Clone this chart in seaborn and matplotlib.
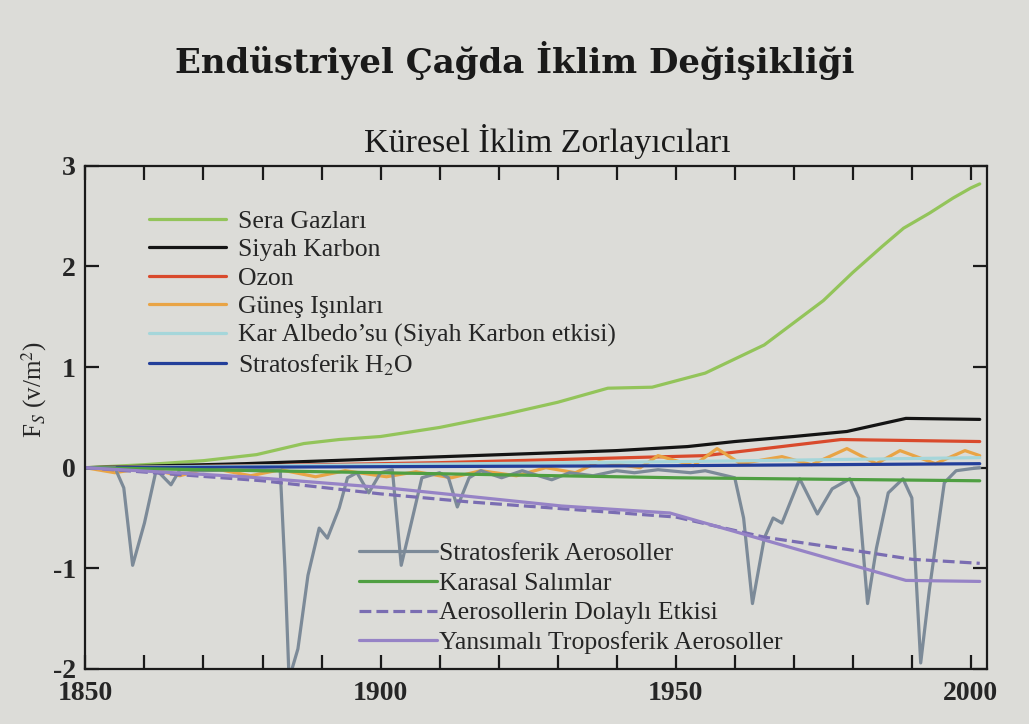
import matplotlib
matplotlib.use("Agg")
import matplotlib.pyplot as plt
import seaborn as sns
from matplotlib.ticker import MultipleLocator
from matplotlib.lines import Line2D

# =========================
# DATA
# =========================
ghg_years = [1850, 1860, 1870, 1879, 1887, 1893, 1900, 1910, 1921, 1930, 1938.5, 1946,
             1955, 1965, 1975, 1980, 1985, 1988.6, 1993, 1997, 2000, 2001.5]
ghg_vals = [0, 0.03, 0.07, 0.13, 0.24, 0.28, 0.31, 0.40, 0.53, 0.65, 0.79, 0.80,
            0.94, 1.22, 1.66, 1.94, 2.20, 2.38, 2.53, 2.68, 2.78, 2.82]

bc_years = [1850, 1877, 1901, 1940, 1952, 1960, 1970, 1979, 1989, 2001.5]
bc_vals = [0, 0.04, 0.09, 0.17, 0.21, 0.26, 0.31, 0.36, 0.49, 0.48]

ozone_years = [1850, 1880, 1910, 1955, 1978, 2001.5]
ozone_vals = [0, 0.02, 0.05, 0.12, 0.28, 0.26]

solar_years = [1850, 1855, 1860, 1866, 1871, 1878, 1883, 1889, 1894, 1901, 1906, 1912,
               1917, 1923, 1928, 1933, 1937, 1944, 1947, 1953, 1957, 1961, 1968, 1973,
               1979, 1984, 1988, 1994, 1999, 2001.5]
solar_vals = [0, -0.05, 0, -0.08, 0, -0.08, -0.02, -0.09, -0.03, -0.09, -0.04, -0.10,
              -0.03, -0.08, 0, -0.05, 0.06, 0, 0.12, 0.02, 0.19, 0.04, 0.11, 0.03,
              0.19, 0.04, 0.17, 0.04, 0.17, 0.12]

snow_years = [1850, 1900, 1950, 2001.5]
snow_vals = [0, 0.03, 0.06, 0.10]

h2o_years = [1850, 1900, 1950, 2001.5]
h2o_vals = [0, 0.01, 0.02, 0.04]

strat_years = [1850, 1855, 1856.5, 1858, 1860, 1862, 1864.5, 1866, 1870, 1875, 1880, 1883,
               1883.8, 1884.5, 1886, 1887.7, 1889.6, 1891, 1893, 1894.4, 1896, 1898, 1900,
               1902, 1903.5, 1905, 1907, 1910, 1911.5, 1913, 1915, 1917, 1920.5, 1924,
               1929, 1932, 1936, 1940, 1943, 1947, 1952.5, 1955, 1960, 1961.5, 1963,
               1965, 1966.5, 1968, 1971, 1974, 1976.5, 1979.5, 1981, 1982.5, 1984, 1986,
               1988.5, 1990, 1991.5, 1993, 1995.5, 1997.5, 2000, 2001.5]
strat_vals = [0, 0, -0.2, -0.97, -0.55, -0.02, -0.17, -0.02, -0.03, -0.02, -0.03, -0.02,
              -1.0, -2.1, -1.8, -1.07, -0.6, -0.7, -0.4, -0.1, -0.05, -0.25, -0.05,
              -0.02, -0.97, -0.6, -0.1, -0.05, -0.1, -0.39, -0.1, -0.03, -0.1, -0.03,
              -0.12, -0.05, -0.08, -0.03, -0.05, -0.02, -0.05, -0.03, -0.1, -0.5, -1.35,
              -0.7, -0.5, -0.55, -0.11, -0.46, -0.21, -0.11, -0.3, -1.35, -0.8, -0.25,
              -0.11, -0.3, -1.94, -1.2, -0.15, -0.03, -0.01, 0.0]

land_years = [1850, 1880, 1900, 1950, 2001.5]
land_vals = [0, -0.03, -0.05, -0.10, -0.13]

indirect_years = [1850, 1880, 1900, 1915, 1950, 1965, 1980, 1990, 2001.5]
indirect_vals = [0, -0.13, -0.26, -0.34, -0.49, -0.69, -0.82, -0.91, -0.95]

reflect_years = [1850, 1877, 1901, 1930.6, 1949, 1989, 2001.5]
reflect_vals = [0, -0.09, -0.20, -0.38, -0.45, -1.12, -1.13]

# =========================
# STYLE
# =========================
paper = "#dcdcd8"
sns.set_theme(style="ticks")
plt.rcParams["font.family"] = ["Liberation Serif", "DejaVu Serif"]
plt.rcParams["mathtext.fontset"] = "stix"
plt.rcParams["axes.unicode_minus"] = False

fig = plt.figure(figsize=(10.29, 7.24), dpi=100, facecolor=paper)
ax = fig.add_axes([0.083, 0.076, 0.876, 0.695])
ax.set_facecolor(paper)

series = [
    ("Sera Gazları", ghg_years, ghg_vals, "#93c45a", "-"),
    ("Siyah Karbon", bc_years, bc_vals, "#141414", "-"),
    ("Ozon", ozone_years, ozone_vals, "#d94a2c", "-"),
    ("Güneş Işınları", solar_years, solar_vals, "#e9a445", "-"),
    ("Kar Albedo’su (Siyah Karbon etkisi)", snow_years, snow_vals, "#a5d6da", "-"),
    ("Stratosferik H$_2$O", h2o_years, h2o_vals, "#233f9a", "-"),
    ("Stratosferik Aerosoller", strat_years, strat_vals, "#7c8a98", "-"),
    ("Karasal Salımlar", land_years, land_vals, "#4f9f42", "-"),
    ("Aerosollerin Dolaylı Etkisi", indirect_years, indirect_vals, "#7a6db2", "--"),
    ("Yansımalı Troposferik Aerosoller", reflect_years, reflect_vals, "#9683c6", "-"),
]

handles = []
for name, xs, ys, col, ls in series:
    sns.lineplot(x=xs, y=ys, ax=ax, color=col, linestyle=ls, linewidth=2.3,
                 estimator=None, sort=False)
    handles.append(Line2D([], [], color=col, linestyle=ls, linewidth=2.3, label=name))

ax.set_xlim(1850, 2002.7)
ax.set_ylim(-2, 3)
ax.xaxis.set_major_locator(MultipleLocator(50))
ax.xaxis.set_minor_locator(MultipleLocator(10))
ax.yaxis.set_major_locator(MultipleLocator(1))
ax.tick_params(axis="both", which="both", direction="in", top=True, right=True,
               color="#1a1a1a")
ax.tick_params(axis="both", which="major", length=10, width=1.6, labelsize=20)
ax.tick_params(axis="x", which="major", pad=9)
ax.tick_params(axis="y", which="major", pad=7)
ax.tick_params(axis="x", which="minor", length=10, width=1.6)
for lbl in ax.get_xticklabels() + ax.get_yticklabels():
    lbl.set_fontweight("bold")
for sp in ax.spines.values():
    sp.set_linewidth(1.6)
    sp.set_color("#1a1a1a")

ax.set_xlabel("")
ax.set_ylabel("F$_S$ (v/m$^2$)", fontsize=18)
ax.yaxis.set_label_coords(-0.04, 0.555)

leg1 = ax.legend(handles=handles[:6], loc="upper left", bbox_to_anchor=(0.07, 0.912),
                 frameon=False, fontsize=18.5, handlelength=3.0, handletextpad=0.5,
                 labelspacing=0.21, borderpad=0, borderaxespad=0)
ax.add_artist(leg1)
ax.legend(handles=handles[6:], loc="upper left", bbox_to_anchor=(0.304, 0.252),
          frameon=False, fontsize=18.5, handlelength=3.0, handletextpad=0.1,
          labelspacing=0.26, borderpad=0, borderaxespad=0)

fig.text(0.5, 0.917, "Endüstriyel Çağda İklim Değişikliği", ha="center", va="center",
         fontsize=24.5, fontweight="bold", family=["DejaVu Serif"], color="#1a1a1a")
fig.text(0.532, 0.805, "Küresel İklim Zorlayıcıları", ha="center", va="center",
         fontsize=24.5, color="#1a1a1a")

fig.savefig("out.png", dpi=100, facecolor=paper)
